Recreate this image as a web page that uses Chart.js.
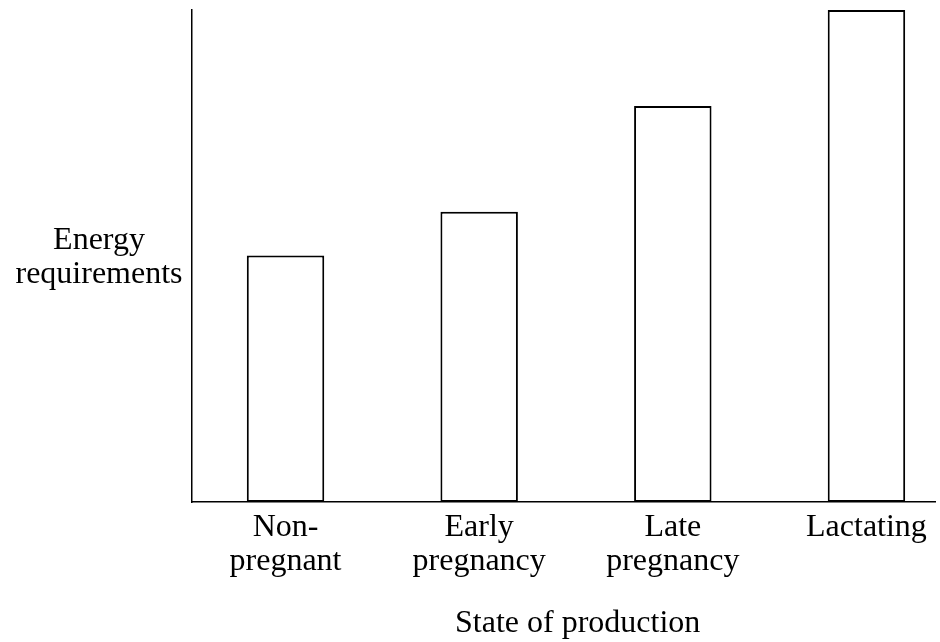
<!DOCTYPE html>
<html>
<head>
<meta charset="utf-8">
<script src="https://cdn.jsdelivr.net/npm/chart.js@4/dist/chart.umd.min.js"></script>
<style>
  html, body { margin: 0; padding: 0; background: #fff; overflow: hidden; }
  #wrap { width: 940px; height: 642px; }
</style>
</head>
<body>
<div id="wrap"><canvas id="c" width="940" height="642"></canvas></div>
<script>
const categories = [["Non-", "pregnant"], ["Early", "pregnancy"], ["Late", "pregnancy"], ["Lactating"]];
const energyValues = [50.1, 59.0, 80.5, 100];
const yAxisTitle = ["Energy", "requirements"];
const xAxisTitle = "State of production";

const FONT = "'Liberation Serif', 'Times New Roman', serif";

const textPlugin = {
  id: 'axisTexts',
  afterDraw(chart) {
    const ctx = chart.ctx;
    ctx.save();
    ctx.fillStyle = '#000';
    ctx.font = '32px ' + FONT;
    ctx.textBaseline = 'alphabetic';
    ctx.textAlign = 'center';
    ctx.fillText(yAxisTitle[0], 99, 249);
    ctx.fillText(yAxisTitle[1], 99, 283);
    ctx.textAlign = 'left';
    ctx.fillText(xAxisTitle, 455, 632);
    ctx.restore();
  }
};

new Chart(document.getElementById('c'), {
  type: 'bar',
  data: {
    datasets: [{
      data: energyValues.map((v, i) => ({ x: i + 1, y: v })),
      backgroundColor: '#ffffff',
      borderColor: '#000000',
      borderWidth: 2,
      borderSkipped: false,
      barPercentage: 0.4,
      categoryPercentage: 1.0
    }]
  },
  options: {
    responsive: false,
    animation: false,
    events: [],
    layout: { padding: { left: 0, right: 5, top: 10, bottom: 0 } },
    plugins: { legend: { display: false }, tooltip: { enabled: false }, title: { display: false } },
    scales: {
      x: {
        type: 'linear',
        offset: false,
        min: 0.517,
        max: 4.354,
        grid: { display: false, drawTicks: false, offset: false },
        border: { display: true, color: '#000', width: 1.5 },
        afterBuildTicks: (axis) => { axis.ticks = categories.map((c, i) => ({ value: i + 1 })); },
        afterFit: (scale) => { scale.height = 140; },
        ticks: {
          autoSkip: false,
          maxRotation: 0,
          minRotation: 0,
          padding: 9,
          color: '#000',
          font: { family: FONT, size: 32, lineHeight: 1.05 },
          callback: (v) => categories[Math.round(v) - 1] || ''
        }
      },
      y: {
        min: 0,
        max: 100,
        grid: { display: false, drawTicks: false },
        border: { display: true, color: '#000', width: 1.5 },
        ticks: { display: false },
        afterFit: (scale) => { scale.width = 192; }
      }
    }
  },
  plugins: [textPlugin]
});
</script>
</body>
</html>
